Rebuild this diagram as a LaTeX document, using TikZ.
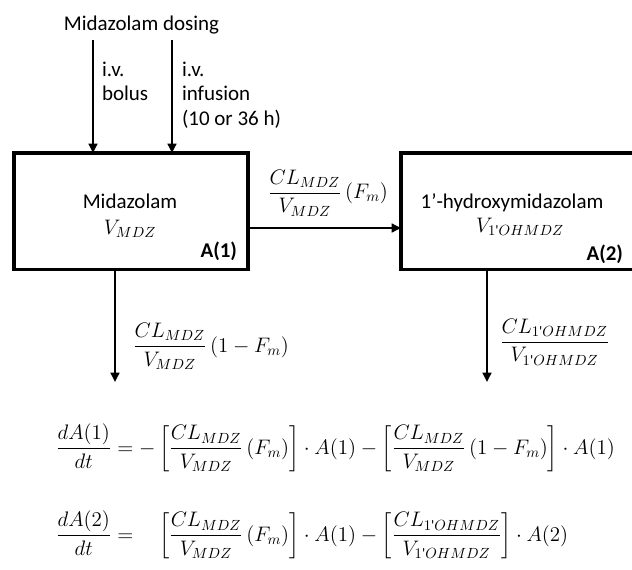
\RequirePackage{fix-cm}
\documentclass[tikz,border=0pt]{standalone}
\usepackage{amsmath}
\usepackage[no-math]{fontspec}
\setmainfont{Carlito}
\usetikzlibrary{arrows.meta}

\newcommand{\OH}{1\text{\textquotesingle}OHMDZ}

\begin{document}
\begin{tikzpicture}[x=0.75pt, y=-0.75pt,
  every node/.style={font=\fontsize{15.75pt}{18.9pt}\selectfont, inner sep=0pt, outer sep=0pt},
  compartment/.style={draw, line width=2.4pt, minimum width=175.5pt, minimum height=87.4pt},
  flow/.style={line width=1.9pt, -{Triangle[length=7pt, width=6.5pt]}},
  boxtag/.style={anchor=base east, font=\fontsize{15.75pt}{18.9pt}\selectfont\bfseries}]

  % page frame
  \useasboundingbox (0,0) rectangle (632,569);
  \clip (0,0) rectangle (632,569);
  \fill[white] (0,0) rectangle (632,569);

  % compartments
  \node[compartment] (lbox) at (131,211.25) {};
  \node[compartment, minimum width=195pt] (rbox) at (531,211.25) {};

  \node[anchor=base] (mdz) at (130,208) {Midazolam};
  \node[anchor=base] (vmdz) at (130,234) {$V_{MDZ}$};
  \node[boxtag] (a1) at (237,257) {A(1)};

  \node[anchor=base] (ohmdz) at (512,208) {1’-hydroxymidazolam};
  \node[anchor=base] (vohmdz) at (520,232) {$V_{\OH}$};
  \node[boxtag] (a2) at (623,260.5) {A(2)};

  % dosing
  \node[anchor=base] (dose) at (141.5,30) {Midazolam dosing};
  \coordinate (bolusTop) at (93,40);
  \coordinate (infTop) at (172,40);
  \draw[flow] (bolusTop) -- (bolusTop |- lbox.north);
  \draw[flow] (infTop) -- (infTop |- lbox.north);
  \node[anchor=base west] (iv1) at (102,76) {i.v.};
  \node[anchor=base west] (bolus) at (102,100) {bolus};
  \node[anchor=base west] (iv2) at (182,76) {i.v.};
  \node[anchor=base west] (infusion) at (182,100) {infusion};
  \node[anchor=base west] (duration) at (182,125) {(10 or 36 h)};

  % metabolism and elimination
  \coordinate (flowrow) at (0,228);
  \draw[flow] (lbox.east |- flowrow) -- (rbox.west |- flowrow);
  \node (kf) at (328,193) {$\dfrac{CL_{MDZ}}{V_{MDZ}}\,(F_m)$};

  \coordinate (elimA) at (115,382);
  \draw[flow] (elimA |- lbox.south) -- (elimA);
  \node[anchor=west] (ke1) at (133,346.5) {$\dfrac{CL_{MDZ}}{V_{MDZ}}\,(1-F_m)$};

  \coordinate (elimB) at (487,382);
  \draw[flow] (elimB |- rbox.south) -- (elimB);
  \node[anchor=west] (ke2) at (500,342) {$\dfrac{CL_{\OH}}{V_{\OH}}$};

  % model equations
  \node[anchor=west] (eq1) at (56,448)
    {$\dfrac{dA(1)}{dt} = -\left[\dfrac{CL_{MDZ}}{V_{MDZ}}\,(F_m)\right]\cdot A(1) - \left[\dfrac{CL_{MDZ}}{V_{MDZ}}\,(1-F_m)\right]\cdot A(1)$};
  \node[anchor=west] (eq2) at (56,535)
    {$\dfrac{dA(2)}{dt} = \phantom{-}\left[\dfrac{CL_{MDZ}}{V_{MDZ}}\,(F_m)\right]\cdot A(1) - \left[\dfrac{CL_{\OH}}{V_{\OH}}\right]\cdot A(2)$};
\end{tikzpicture}
\end{document}
